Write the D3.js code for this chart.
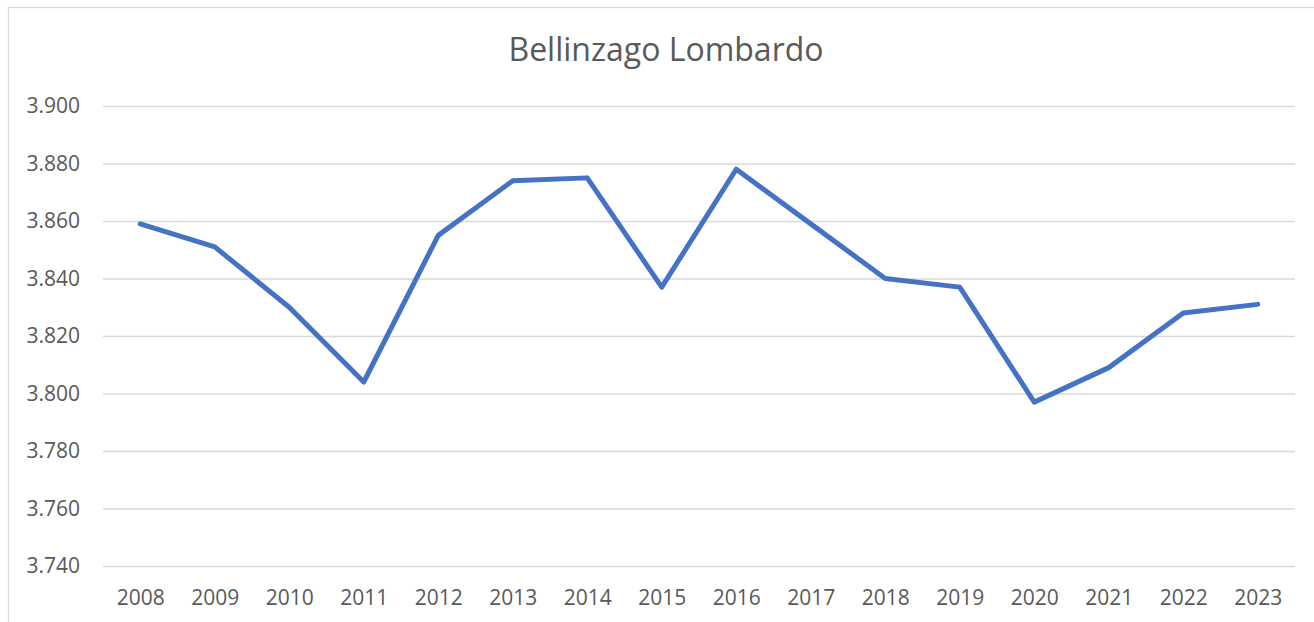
<!DOCTYPE html>
<html>
<head>
<meta charset="utf-8">
<script src="https://cdn.jsdelivr.net/npm/d3@7"></script>
<style>
  html, body { margin: 0; padding: 0; background: #fff; }
  svg text { font-family: "Open Sans", sans-serif; fill: #595959; }
</style>
</head>
<body>
<svg id="chart" width="1314" height="622"></svg>
<script>
// data
const years = ["2008", "2009", "2010", "2011", "2012", "2013", "2014", "2015",
               "2016", "2017", "2018", "2019", "2020", "2021", "2022", "2023"];
const values = [3.859, 3.851, 3.830, 3.804, 3.855, 3.874, 3.875, 3.837,
                3.878, 3.859, 3.840, 3.837, 3.797, 3.809, 3.828, 3.831];
const yTicks = [3.740, 3.760, 3.780, 3.800, 3.820, 3.840, 3.860, 3.880, 3.900];
const title = "Bellinzago Lombardo";

const width = 1314, height = 622;
const margin = {top: 106, right: 19, bottom: 56, left: 103};

const svg = d3.select("#chart");

// chart frame
svg.append("rect")
    .attr("x", 8.5).attr("y", 7.5)
    .attr("width", width + 20).attr("height", height + 20)
    .attr("fill", "none")
    .attr("stroke", "#d9d9d9")
    .attr("stroke-width", 1.3);

const x = d3.scalePoint()
    .domain(years)
    .range([margin.left, width - margin.right])
    .padding(0.5);

const y = d3.scaleLinear()
    .domain([3.740, 3.900])
    .range([height - margin.bottom, margin.top]);

// gridlines + y labels
const yAxis = svg.append("g")
    .attr("transform", `translate(${margin.left},0)`)
    .call(d3.axisLeft(y)
      .tickValues(yTicks)
      .tickFormat(d3.format(".3f"))
      .tickSize(-(width - margin.left - margin.right))
      .tickPadding(23));
yAxis.select(".domain").remove();
yAxis.selectAll(".tick line")
    .attr("stroke", "#d9d9d9")
    .attr("stroke-width", 1.3);
yAxis.selectAll(".tick text")
    .attr("font-size", 21)
    .attr("fill", "#595959");

// x labels
const xAxis = svg.append("g")
    .attr("transform", `translate(0,${height - margin.bottom})`)
    .call(d3.axisBottom(x).tickSize(0).tickPadding(24));
xAxis.select(".domain").remove();
xAxis.selectAll(".tick text")
    .attr("font-size", 21)
    .attr("fill", "#595959");

// the series
const line = d3.line()
    .x(function (d, i) { return x(years[i]) })
    .y(function (d) { return y(d) });

svg.append("path")
    .datum(values)
    .attr("d", line)
    .attr("fill", "none")
    .attr("stroke", "#4472c4")
    .attr("stroke-width", 5)
    .attr("stroke-linejoin", "round")
    .attr("stroke-linecap", "round");

svg.append("text")
    .attr("x", 666)
    .attr("y", 61)
    .attr("text-anchor", "middle")
    .attr("font-size", 32)
    .text(title);
</script>
</body>
</html>
